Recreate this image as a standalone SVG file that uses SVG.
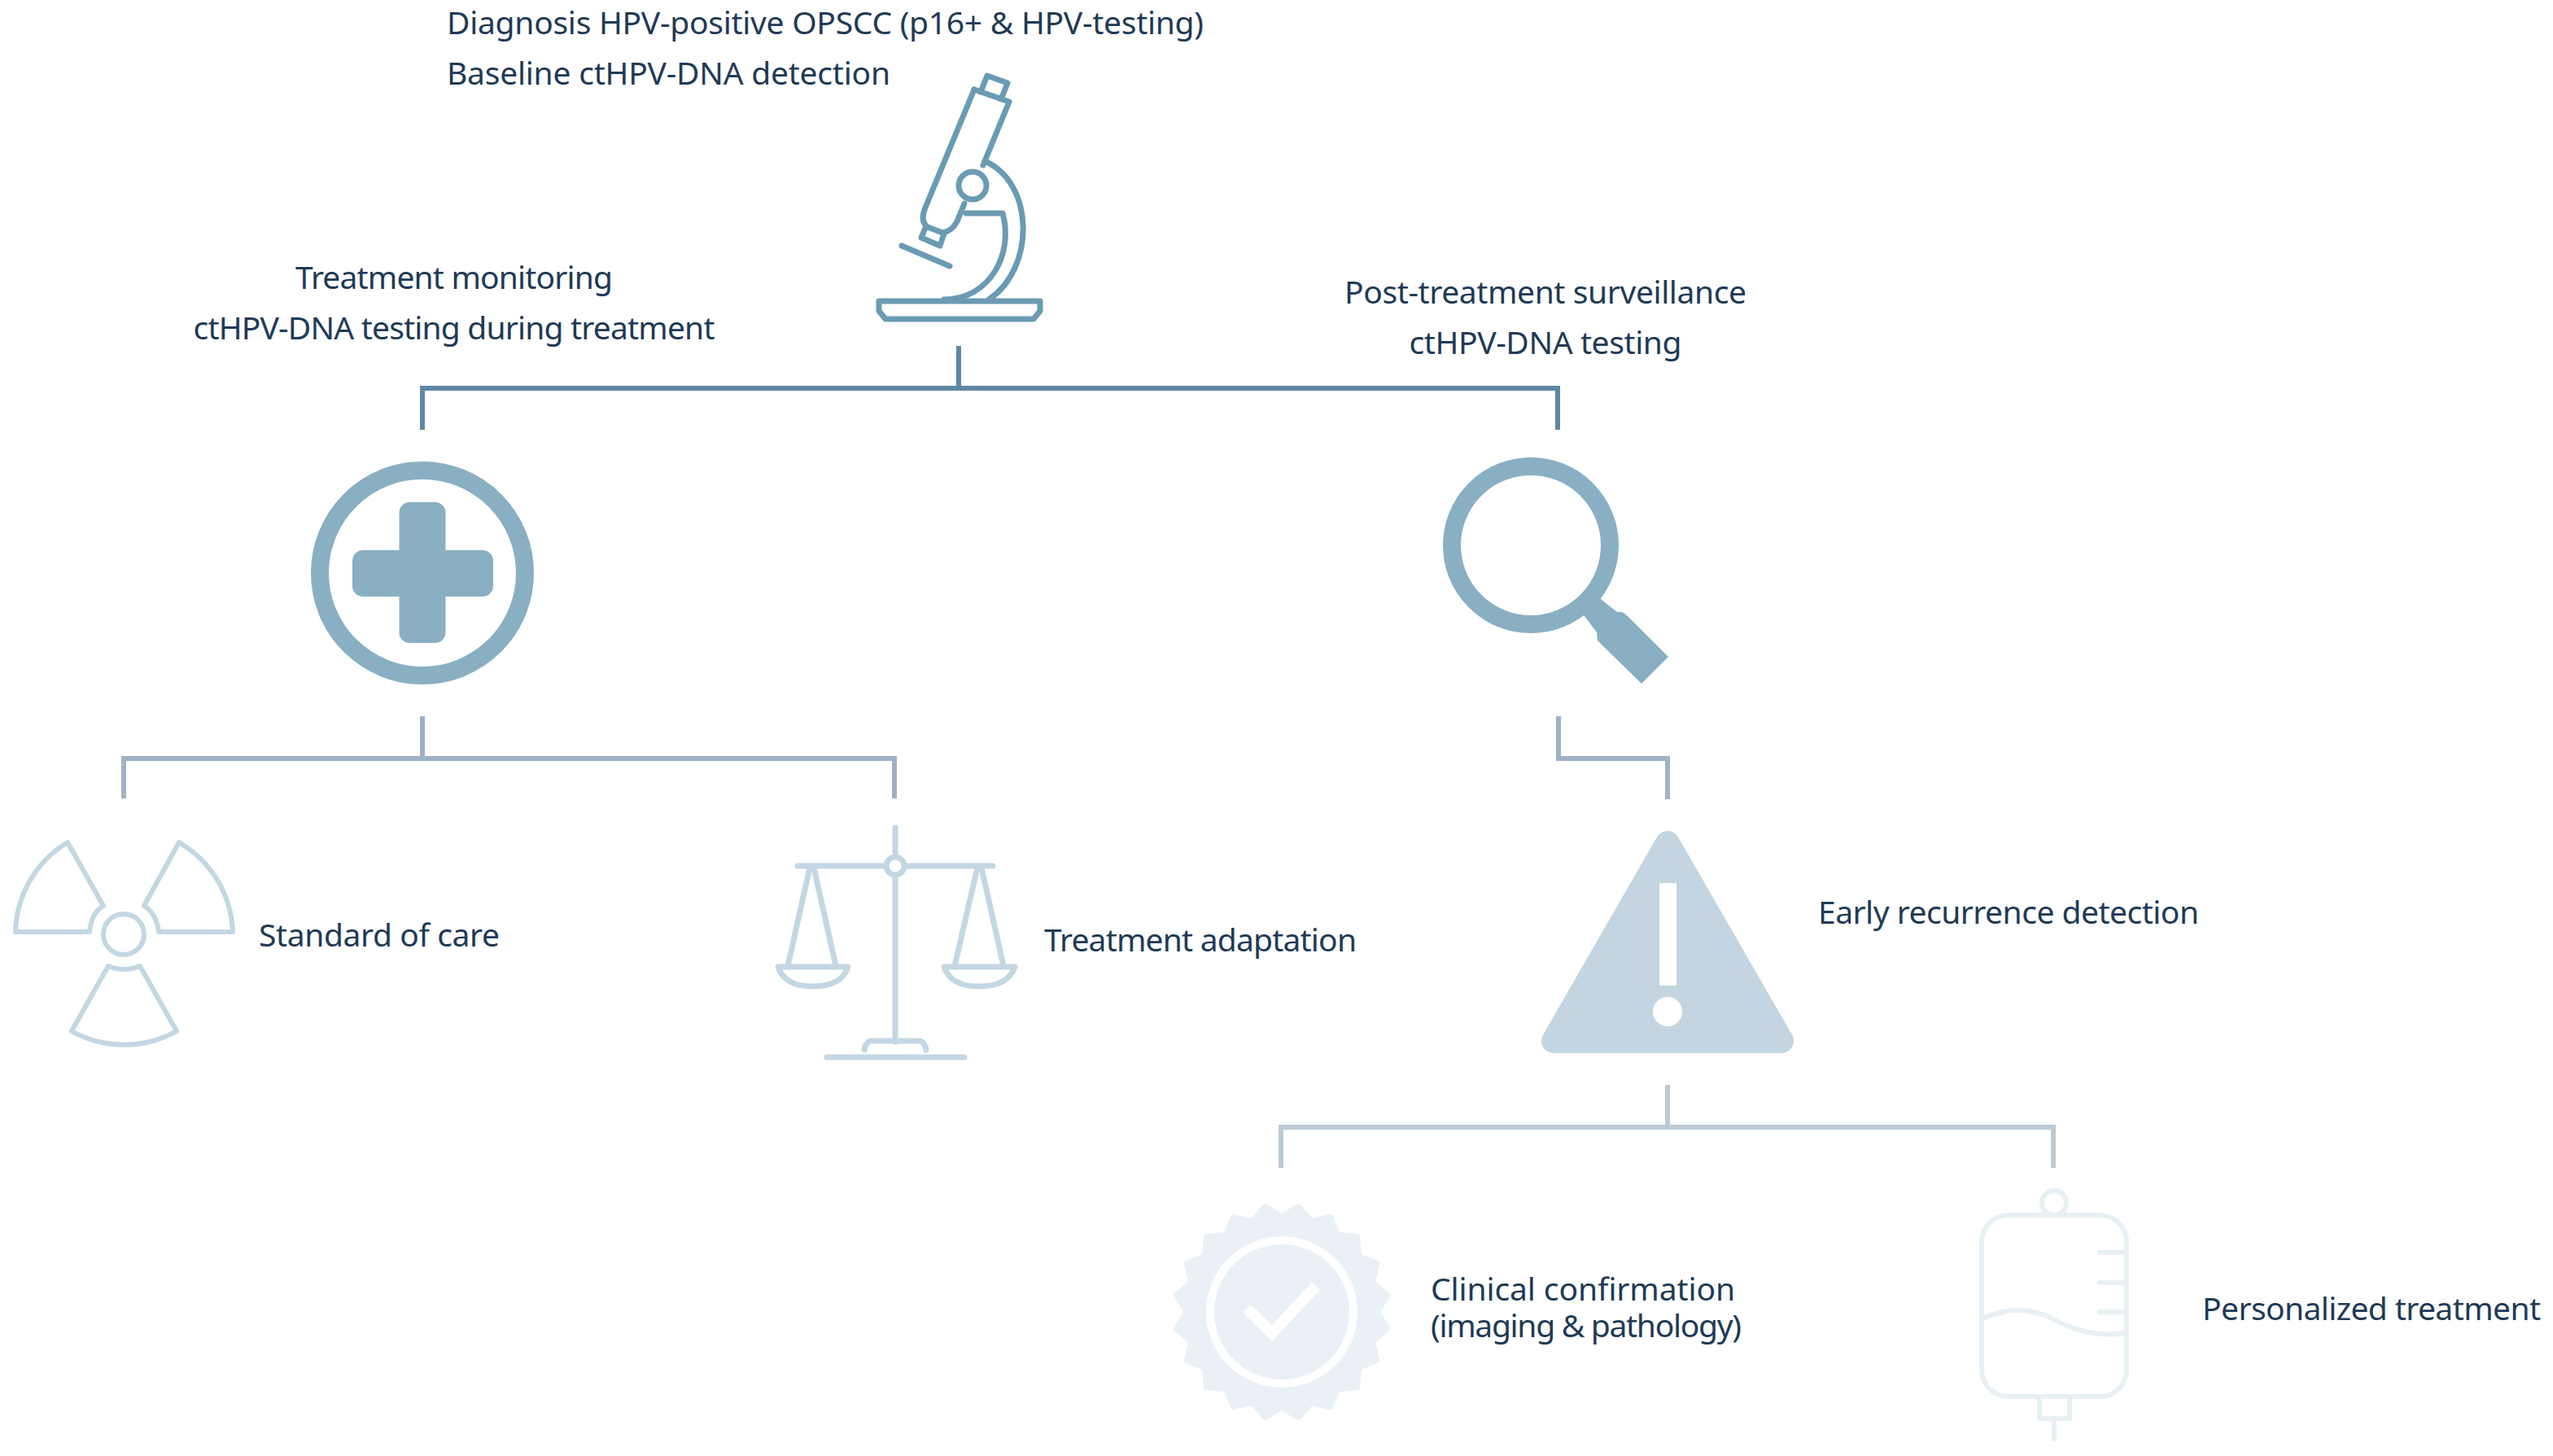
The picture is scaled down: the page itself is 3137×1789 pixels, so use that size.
<svg xmlns="http://www.w3.org/2000/svg" width="3137" height="1789" viewBox="0 0 3137 1789">
<style>
text{font-family:"Noto Sans","Open Sans",sans-serif;font-size:39px;fill:#1f3a56}
.m{text-anchor:middle}
.c{fill:none;stroke-linecap:butt;stroke-linejoin:miter}
.ln{fill:none;stroke-linejoin:round;stroke-linecap:round}
</style>
<rect width="3137" height="1789" fill="#fff"/>
<g id="connectors">
<path class="c" stroke="#5f87a3" stroke-width="6" d="M1178 425V477M519 528V477H1914V528"/>
<path class="c" stroke="#9fb2c6" stroke-width="6" d="M519 880V932M152 981V932H1099V981"/>
<path class="c" stroke="#9fb2c6" stroke-width="6" d="M1915 880V932H2049V982"/>
<path class="c" stroke="#bccad6" stroke-width="6" d="M2049 1333V1385M1574 1435V1385H2523V1435"/>
</g>
<g id="microscope" class="ln" stroke="#6a9bb3" stroke-width="7">
<path d="M1205 113L1213 93L1238 102L1230 122"/>
<path d="M1197 110L1240 125L1208 203"/>
<path d="M1197 110L1137 255Q1130 272 1140 279L1158 286Q1170 284 1176 272L1185 250"/>
<path d="M1137 280L1132 292L1155 302L1160 287"/>
<circle cx="1195" cy="228" r="17"/>
<path d="M1210 198C1272 225 1272 330 1215 368"/>
<path d="M1187 262H1232C1246 312 1216 368 1160 368"/>
<path d="M1108 302L1167 327"/>
<path d="M1080 370H1278V382L1270 392H1088L1080 382Z"/>
</g>
<g id="treatment-monitoring" fill="#89afc2">
<circle cx="519" cy="704" r="126" fill="none" stroke="#89afc2" stroke-width="22"/>
<rect x="490.5" y="617" width="57" height="173" rx="13"/>
<rect x="433" y="676" width="173" height="57" rx="13"/>
</g>
<g id="surveillance" fill="#89afc2">
<circle cx="1881" cy="670" r="97" fill="none" stroke="#89afc2" stroke-width="22"/>
<path d="M1960 728L1968 737L1987 752Q1994 751 2000 757L2050 807L2017 840L1963 787L1962 777L1947 757L1940 750Z"/>
</g>
<g id="standard-of-care" class="ln" stroke="#c3d7e3" stroke-width="6">
<circle cx="152" cy="1148" r="25"/>
<path d="M83 1035L127 1113Q112 1122 110 1145H19A133 133 0 0 1 83 1035Z"/>
<path d="M220 1035L177 1113Q192 1122 195 1145H286A133 133 0 0 0 220 1035Z"/>
<path d="M133 1187Q152 1195 172 1187L217 1267A133 133 0 0 1 88 1267Z"/>
</g>
<g id="treatment-adaptation" class="ln" stroke="#c3d7e3" stroke-width="7">
<path d="M1100 1017V1053M1100 1075V1280M980 1064H1089M1111 1064H1220"/>
<circle cx="1100" cy="1064" r="11"/>
<path d="M1062 1290Q1064 1279 1072 1279H1128Q1136 1279 1138 1290M1016 1299H1185"/>
<path d="M968 1187L995 1066M1000 1066L1027 1187M956 1188H1042Q1034 1212 999 1212Q964 1212 956 1188Z"/>
<path d="M1173 1187L1201 1066M1206 1066L1233 1187M1160 1188H1247Q1239 1212 1203 1212Q1168 1212 1160 1188Z"/>
</g>
<g id="early-recurrence">
<path d="M2049 1036L2189 1279H1909Z" fill="#c2d5e0" stroke="#c2d5e0" stroke-width="30" stroke-linejoin="round"/>
<rect x="2039" y="1085" width="21" height="126" fill="#fff"/>
<circle cx="2049" cy="1243" r="18" fill="#fff"/>
</g>
<g id="clinical-confirmation" transform="translate(1575 1612)">
<polygon fill="#eaf0f5" stroke="#eaf0f5" stroke-width="7" stroke-linejoin="round" points="0,-117 20.5,-129.4 36.2,-111.3 59.5,-116.7 68.8,-94.7 92.6,-92.6 94.7,-68.8 116.7,-59.5 111.3,-36.2 129.4,-20.5 117,0 129.4,20.5 111.3,36.2 116.7,59.5 94.7,68.8 92.6,92.6 68.8,94.7 59.5,116.7 36.2,111.3 20.5,129.4 0,117 -20.5,129.4 -36.2,111.3 -59.5,116.7 -68.8,94.7 -92.6,92.6 -94.7,68.8 -116.7,59.5 -111.3,36.2 -129.4,20.5 -117,0 -129.4,-20.5 -111.3,-36.2 -116.7,-59.5 -94.7,-68.8 -92.6,-92.6 -68.8,-94.7 -59.5,-116.7 -36.2,-111.3 -20.5,-129.4"/>
<circle r="88" fill="none" stroke="#fff" stroke-width="10"/>
<path d="M-43 -4L-12 26L42 -32" fill="none" stroke="#fff" stroke-width="14"/>
</g>
<g id="personalized-treatment" class="ln" stroke="#e8f0f4" stroke-width="6">
<rect x="2435" y="1493" width="178" height="223" rx="33"/>
<circle cx="2524" cy="1478" r="15"/>
<path d="M2506 1716V1743H2543V1716M2524 1743V1768"/>
<path d="M2580 1539H2613M2580 1576H2613M2580 1612H2613"/>
<path d="M2437 1620C2470 1605 2500 1608 2525 1622C2555 1638 2585 1642 2611 1638"/>
</g>
<g id="labels">
<text x="549" y="42" textLength="930">Diagnosis HPV-positive OPSCC (p16+ &amp; HPV-testing)</text>
<text x="549" y="104" textLength="545">Baseline ctHPV-DNA detection</text>
<text class="m" x="558" y="355" textLength="390">Treatment monitoring</text>
<text class="m" x="558" y="417" textLength="641">ctHPV-DNA testing during treatment</text>
<text class="m" x="1899" y="373" textLength="494">Post-treatment surveillance</text>
<text class="m" x="1899" y="435" textLength="335">ctHPV-DNA testing</text>
<text x="318" y="1163" textLength="296">Standard of care</text>
<text x="1283" y="1169" textLength="384">Treatment adaptation</text>
<text x="2234" y="1135" textLength="468">Early recurrence detection</text>
<text x="1758" y="1598" textLength="374">Clinical confirmation</text>
<text x="1758" y="1643" textLength="382">(imaging &amp; pathology)</text>
<text x="2706" y="1622" textLength="416">Personalized treatment</text>
</g>
</svg>
